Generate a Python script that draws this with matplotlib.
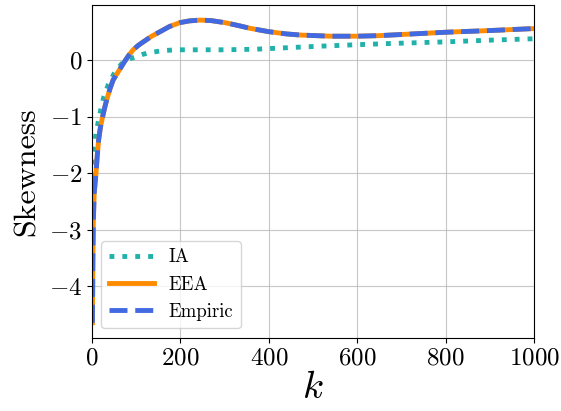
import matplotlib
matplotlib.use('Agg')
import matplotlib.pyplot as plt

plt.rcParams['font.family'] = 'serif'
plt.rcParams['font.serif'] = ['cmr10']
plt.rcParams['mathtext.fontset'] = 'cm'
plt.rcParams['axes.formatter.use_mathtext'] = True

# skewness vs k for the three estimates
k_ia = [1, 3, 5, 9, 15, 20, 26, 37, 52, 70, 85, 101, 115, 130, 160, 190, 250, 300,
        370, 450, 520, 600, 670, 800, 900, 1000]
skew_ia = [-2.3, -1.9, -1.6, -1.29, -1.06, -0.87, -0.67, -0.43, -0.21, -0.04, 0.02,
           0.06, 0.10, 0.13, 0.165, 0.18, 0.18, 0.18, 0.19, 0.22, 0.245, 0.27, 0.29,
           0.32, 0.35, 0.375]

k_eea = [1, 2, 3, 5, 9, 12, 15, 19, 24, 30, 36, 41, 48, 60, 71, 82, 93, 105, 116,
         135, 154, 175, 199, 220, 244, 270, 300, 330, 357, 400, 440, 472, 540, 600,
         650, 700, 800, 900, 1000]
skew_eea = [-4.64, -3.5, -2.85, -2.35, -2.0, -1.68, -1.41, -1.19, -1.0, -0.8, -0.63,
            -0.5, -0.35, -0.2, -0.06, 0.07, 0.18, 0.26, 0.32, 0.42, 0.50, 0.59,
            0.66, 0.69, 0.705, 0.695, 0.66, 0.61, 0.56, 0.50, 0.46, 0.44, 0.42,
            0.42, 0.43, 0.45, 0.49, 0.52, 0.555]
skew_emp = [-4.64, -3.5, -2.85, -2.35, -2.0, -1.68, -1.41, -1.19, -1.0, -0.8, -0.63,
            -0.5, -0.35, -0.2, -0.06, 0.07, 0.18, 0.26, 0.32, 0.42, 0.50, 0.59,
            0.66, 0.69, 0.705, 0.695, 0.66, 0.61, 0.56, 0.50, 0.46, 0.44, 0.42,
            0.42, 0.43, 0.45, 0.49, 0.52, 0.555]

fig = plt.figure(figsize=(5.61, 4.11), dpi=100)
ax = fig.add_axes([0.164, 0.178, 0.788, 0.81])

ax.plot(k_ia, skew_ia, ':', color='lightseagreen', lw=3.5, label='IA')
ax.plot(k_eea, skew_eea, '-', color='darkorange', lw=3.5, label='EEA')
ax.plot(k_eea, skew_emp, '--', color='royalblue', lw=3.5, label='Empiric')

ax.set_xlim(0, 1000)
ax.grid(True, color='#b0b0b0', alpha=0.7)
ax.tick_params(labelsize=18)
ax.set_xlabel('$k$', fontsize=28, labelpad=0)
ax.set_ylabel('Skewness', fontsize=23, labelpad=6)
ax.legend(loc='lower left', fontsize=13.5, handlelength=2.4)

fig.savefig('out.png')
